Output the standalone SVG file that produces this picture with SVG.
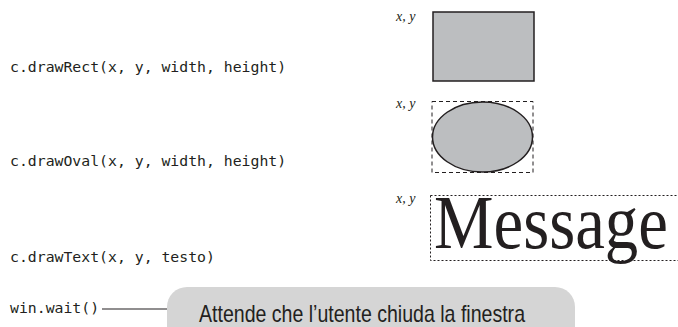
<svg xmlns="http://www.w3.org/2000/svg" width="678" height="327" viewBox="0 0 678 327">
  <style>
    .code { font-family: "DejaVu Sans Mono", "Liberation Mono", monospace; font-size: 14.8px; fill: #231f20; }
    .xy { font-family: "Liberation Serif", "Times New Roman", serif; font-style: italic; font-size: 14px; fill: #231f20; }
    .shape { fill: #bcbec0; stroke: #231f20; stroke-width: 1.5; }
    .bounds { fill: none; stroke: #231f20; stroke-width: 1; }
    .note { font-family: "Liberation Sans Narrow", "Liberation Sans", "DejaVu Sans Condensed", sans-serif; font-size: 24px; fill: #231f20; }
  </style>

  <!-- drawRect example -->
  <g id="rect-call">
    <text class="code" x="10" y="72">c.drawRect(x, y, width, height)</text>
  </g>
  <g id="rect-demo">
    <text class="xy" x="396" y="21">x, y</text>
    <rect class="shape" x="433" y="12" width="101" height="69"/>
  </g>

  <!-- drawOval example -->
  <g id="oval-call">
    <text class="code" x="10" y="166">c.drawOval(x, y, width, height)</text>
  </g>
  <g id="oval-demo">
    <text class="xy" x="396" y="108">x, y</text>
    <rect class="bounds" x="432" y="101.5" width="101" height="71" stroke-dasharray="4 3"/>
    <ellipse class="shape" cx="482.5" cy="137" rx="50" ry="35"/>
  </g>

  <!-- drawText example -->
  <g id="text-call">
    <text class="code" x="10" y="262">c.drawText(x, y, testo)</text>
  </g>
  <g id="text-demo">
    <text class="xy" x="396" y="203">x, y</text>
    <rect class="bounds" x="430.5" y="195.5" width="250" height="65" stroke-dasharray="2 2"/>
    <!-- narrowed serif sample string -->
    <text transform="translate(434 248) scale(0.88 1)" font-family="Liberation Serif, 'Times New Roman', serif" font-size="76" fill="#231f20">Message</text>
  </g>

  <!-- win.wait() with its note -->
  <g id="wait-call">
    <text class="code" x="10" y="313">win.wait()</text>
  </g>
  <g id="wait-note">
    <rect x="167" y="287" width="408" height="70" rx="20" ry="20" fill="#d5d5d5"/>
    <text class="note" x="199" y="322" textLength="326" lengthAdjust="spacingAndGlyphs">Attende che l’utente chiuda la finestra</text>
  </g>

  <g id="connectors">
    <line x1="102" y1="309" x2="167" y2="309" stroke="#231f20" stroke-width="1.2"/>
  </g>
</svg>
